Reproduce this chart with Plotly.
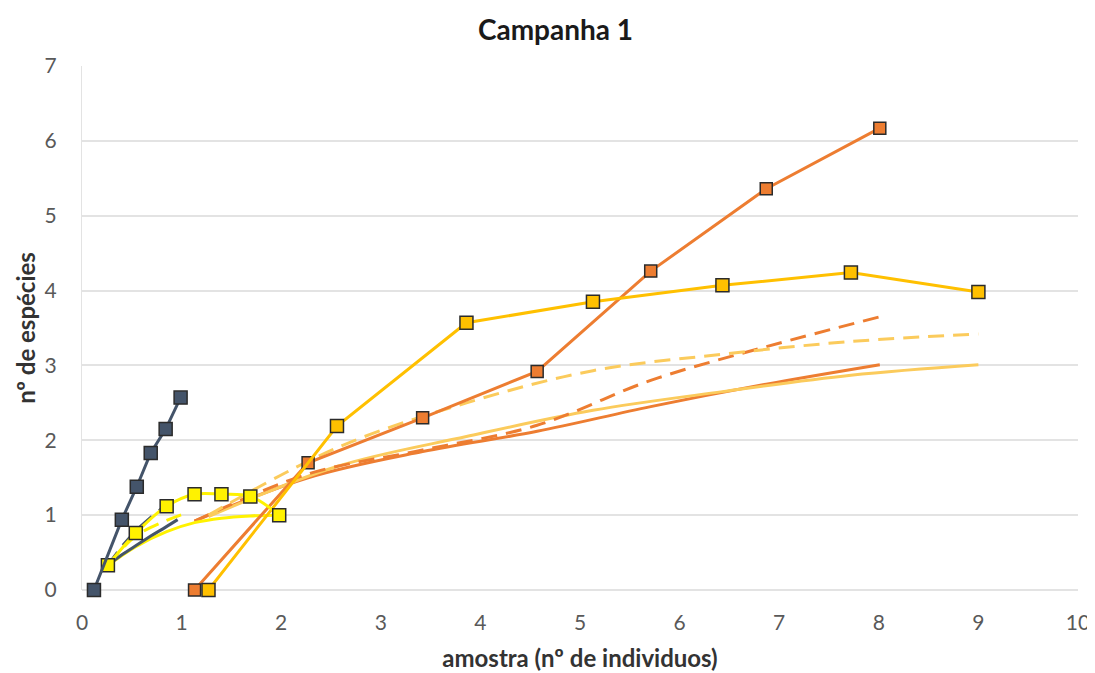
import plotly.graph_objects as go

# ---- data ----
blue_x = [0.12, 0.40, 0.55, 0.69, 0.84, 0.99]
blue_y = [0.0, 0.94, 1.38, 1.83, 2.15, 2.57]
blue_dash_x = [0.26, 0.40, 0.55, 0.69, 0.84, 0.96]
blue_dash_y = [0.33, 0.58, 0.80, 0.97, 1.13, 1.28]
blue_sol_x = [0.26, 0.40, 0.55, 0.69, 0.84, 0.96]
blue_sol_y = [0.33, 0.47, 0.60, 0.72, 0.84, 0.94]

yel_x = [0.26, 0.54, 0.85, 1.13, 1.40, 1.69, 1.98]
yel_y = [0.33, 0.76, 1.12, 1.28, 1.28, 1.25, 1.00]
yel_dash_x = [0.26, 0.54, 0.85, 1.05]
yel_dash_y = [0.33, 0.72, 0.93, 1.03]
yel_sol_x = [0.26, 0.54, 0.85, 1.13, 1.40, 1.69, 1.92]
yel_sol_y = [0.33, 0.58, 0.78, 0.90, 0.96, 0.99, 1.00]

ora_x = [1.13, 2.27, 3.42, 4.57, 5.71, 6.87, 8.01]
ora_y = [0.0, 1.70, 2.30, 2.92, 4.26, 5.36, 6.17]
ora_dash_y = [0.92, 1.55, 1.87, 2.20, 2.80, 3.25, 3.65]
ora_sol_y = [0.92, 1.50, 1.85, 2.12, 2.45, 2.75, 3.01]

gold_x = [1.27, 2.56, 3.86, 5.13, 6.43, 7.72, 9.0]
gold_y = [0.0, 2.19, 3.57, 3.85, 4.07, 4.24, 3.98]
gold_dash_y = [1.00, 1.90, 2.50, 2.93, 3.15, 3.32, 3.42]
gold_sol_y = [0.98, 1.65, 2.05, 2.40, 2.65, 2.87, 3.01]

x_ticks = list(range(0, 11))
y_ticks = list(range(0, 8))

BLUE = "#44546A"
YEL = "#FFF200"
ORA = "#ED7D31"
GOLD = "#FFC000"
GOLD_L = "#FBCB5C"
DASH = "16px,9px"

fig = go.Figure()

def line(x, y, color, dash="solid", width=3, shape="spline"):
    fig.add_trace(go.Scatter(x=x, y=y, mode="lines",
                             line=dict(color=color, width=width, dash=dash, shape=shape),
                             showlegend=False, hoverinfo="skip", cliponaxis=False))

def marked(x, y, color, shape="linear", size=13):
    fig.add_trace(go.Scatter(x=x, y=y, mode="lines+markers",
                             line=dict(color=color, width=3, shape=shape),
                             marker=dict(symbol="square", size=size, color=color,
                                         line=dict(color="#2b2b2b", width=1.5)),
                             showlegend=False, cliponaxis=False))

# estimator curves
line(ora_x, ora_sol_y, ORA)
line(gold_x, gold_sol_y, GOLD_L)
line(ora_x, ora_dash_y, ORA, dash=DASH)
line(gold_x, gold_dash_y, GOLD_L, dash=DASH)
line(yel_sol_x, yel_sol_y, YEL)
line(yel_dash_x, yel_dash_y, YEL, dash=DASH)
line(blue_sol_x, blue_sol_y, BLUE)
line(blue_dash_x, blue_dash_y, BLUE, dash=DASH)

# observed series
marked(ora_x, ora_y, ORA, size=12)
marked(gold_x, gold_y, GOLD)
marked(yel_x, yel_y, YEL, shape="spline")
marked(blue_x, blue_y, BLUE)

fig.update_layout(
    width=1095, height=673,
    paper_bgcolor="white", plot_bgcolor="white",
    margin=dict(l=74, r=25, t=58, b=91),
    font=dict(family="Lato, Open Sans, sans-serif", color="#595959", size=20),
    title=dict(text="<b>Campanha 1</b>", x=0.5, xanchor="center", y=0.967, yanchor="middle",
               font=dict(size=28, color="#1a1a1a")),
    xaxis=dict(range=[0, 10], tickvals=x_ticks, showgrid=False, zeroline=False,
               showline=False, ticks="outside", ticklen=14, tickcolor="rgba(0,0,0,0)",
               tickfont=dict(size=21, color="#595959"),
               title=dict(text="<b>amostra (nº de individuos)</b>", standoff=16,
                          font=dict(size=24, color="#333333"))),
    yaxis=dict(range=[0, 7], tickvals=y_ticks, showgrid=True, gridcolor="#E3E3E3",
               gridwidth=1.5, zeroline=True, zerolinecolor="#E3E3E3", zerolinewidth=1.5,
               showline=True, linecolor="#E3E3E3", linewidth=1,
               ticks="outside", ticklen=20, tickcolor="rgba(0,0,0,0)",
               tickfont=dict(size=21, color="#595959"),
               title=dict(text="<b>nº de espécies</b>", standoff=2,
                          font=dict(size=24, color="#333333"))),
)

fig.write_html("out.html")
